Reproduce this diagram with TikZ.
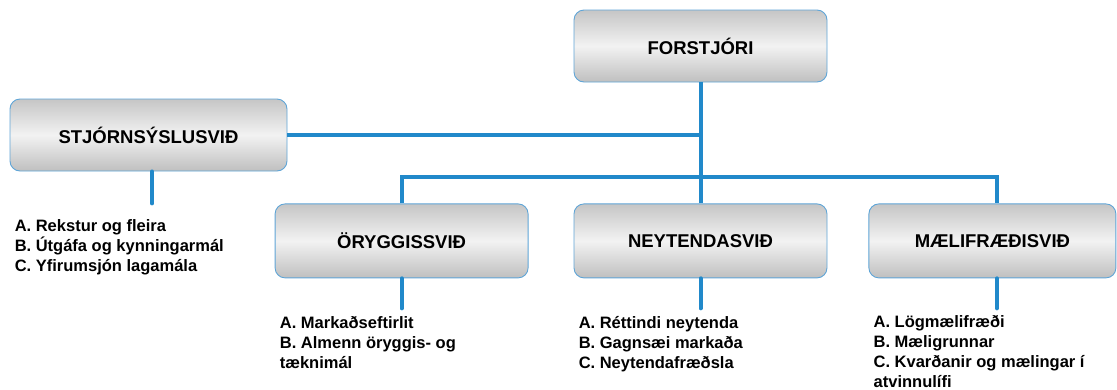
\documentclass[tikz,border=0pt]{standalone}
\usepackage{fontspec}
\setmainfont{Liberation Sans}
\usepackage{tikz}
\usetikzlibrary{positioning}
\definecolor{linkblue}{RGB}{33,137,202}
\definecolor{frameblue}{RGB}{95,165,215}
\tikzstyle{unit}=[rectangle, draw=frameblue, line width=0.9pt, rounded corners=10pt,
        top color=gray!45, bottom color=gray!50, middle color=gray!10,
        text centered, minimum width=253pt, minimum height=74pt,
        font=\fontsize{18.5}{22}\selectfont\bfseries]
\tikzstyle{tasks}=[align=left, inner sep=0pt, anchor=base west,
        font=\fontsize{16.5}{20}\selectfont\bfseries]
\tikzstyle{link}=[draw=linkblue, line width=4pt]
\tikzstyle{stub}=[link, line cap=round]

\begin{document}
\begin{tikzpicture}[x=1pt, y=-1pt, node distance=45pt]
        \useasboundingbox (0,0) rectangle (1117,389);
        \node (forstjori) [unit, minimum height=72pt] at (700.5,46) {FORSTJÓRI};
        \node (stjorn) [unit, minimum width=277pt, minimum height=72pt] at (148.5,135) {STJÓRNSÝSLUSVIÐ};
        \node (neyt) [unit, below=121pt of forstjori] {NEYTENDASVIÐ};
        \node (oryggi) [unit, left=of neyt] {ÖRYGGISSVIÐ};
        \node (maeli) [unit, minimum width=247pt, right=41pt of neyt] {MÆLIFRÆÐISVIÐ};

        % connectors
        \coordinate (bar) at ([yshift=26pt]neyt.north);
        \coordinate (maelitop) at ([xshift=4.5pt]maeli.north);
        \draw [link] (forstjori.south) -- (bar);
        \draw [link] (stjorn.east) -- (stjorn.east -| bar);
        \draw [link] (oryggi.north) |- (bar) -| (maelitop);
        \draw [link] (neyt.north) -- (bar);

        % stubs under the units
        \coordinate (stjorntop) at ([xshift=3.5pt]stjorn.south);
        \coordinate (stjornend) at ([yshift=-32pt]stjorntop);
        \coordinate (oryggiend) at ([yshift=-30pt]oryggi.south);
        \coordinate (neytend) at ([yshift=-30pt]neyt.south);
        \coordinate (maelibottom) at ([xshift=4.5pt]maeli.south);
        \coordinate (maeliend) at ([yshift=-30pt]maelibottom);
        \draw [stub] (stjorntop) -- (stjornend);
        \draw [stub] (oryggi.south) -- (oryggiend);
        \draw [stub] (neyt.south) -- (neytend);
        \draw [stub] (maelibottom) -- (maeliend);

        % task lists (base = last line)
        \node (stjornlist) [tasks] at ([xshift=5pt, yshift=-100pt]stjorn.south west)
        {A. Rekstur og fleira\\B. Útgáfa og kynningarmál\\C. Yfirumsjón lagamála};
        \node (oryggilist) [tasks] at ([xshift=5pt, yshift=-90pt]oryggi.south west)
        {A. Markaðseftirlit\\B. Almenn öryggis- og\\tæknimál};
        \node (neytlist) [tasks] at ([xshift=5pt, yshift=-90pt]neyt.south west)
        {A. Réttindi neytenda\\B. Gagnsæi markaða\\C. Neytendafræðsla};
        \node (maelilist) [tasks] at ([xshift=5pt, yshift=-109pt]maeli.south west)
        {A. Lögmælifræði\\B. Mæligrunnar\\C. Kvarðanir og mælingar í\\atvinnulífi};
\end{tikzpicture}
\end{document}
